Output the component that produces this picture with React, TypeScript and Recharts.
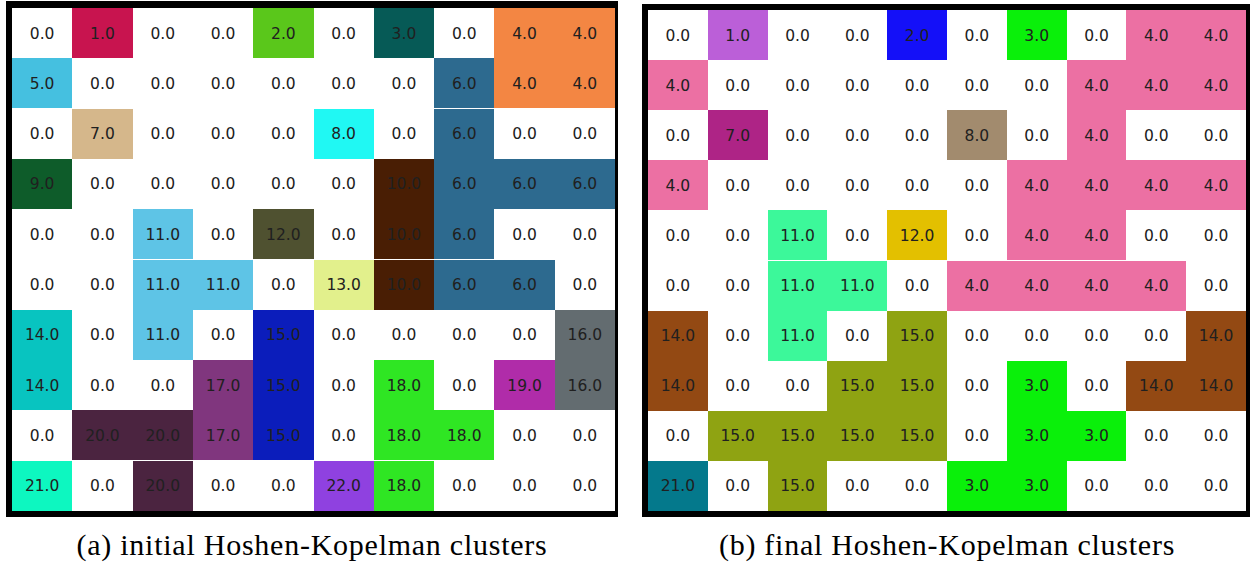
import React from 'react';
import { BarChart, Bar, XAxis, YAxis, Cell, LabelList } from 'recharts';

// cluster labels per lattice site, row by row from the top
const gridInitial = [
  [0, 1, 0, 0, 2, 0, 3, 0, 4, 4],
  [5, 0, 0, 0, 0, 0, 0, 6, 4, 4],
  [0, 7, 0, 0, 0, 8, 0, 6, 0, 0],
  [9, 0, 0, 0, 0, 0, 10, 6, 6, 6],
  [0, 0, 11, 0, 12, 0, 10, 6, 0, 0],
  [0, 0, 11, 11, 0, 13, 10, 6, 6, 0],
  [14, 0, 11, 0, 15, 0, 0, 0, 0, 16],
  [14, 0, 0, 17, 15, 0, 18, 0, 19, 16],
  [0, 20, 20, 17, 15, 0, 18, 18, 0, 0],
  [21, 0, 20, 0, 0, 22, 18, 0, 0, 0],
];

const gridFinal = [
  [0, 1, 0, 0, 2, 0, 3, 0, 4, 4],
  [4, 0, 0, 0, 0, 0, 0, 4, 4, 4],
  [0, 7, 0, 0, 0, 8, 0, 4, 0, 0],
  [4, 0, 0, 0, 0, 0, 4, 4, 4, 4],
  [0, 0, 11, 0, 12, 0, 4, 4, 0, 0],
  [0, 0, 11, 11, 0, 4, 4, 4, 4, 0],
  [14, 0, 11, 0, 15, 0, 0, 0, 0, 14],
  [14, 0, 0, 15, 15, 0, 3, 0, 14, 14],
  [0, 15, 15, 15, 15, 0, 3, 3, 0, 0],
  [21, 0, 15, 0, 0, 3, 3, 0, 0, 0],
];

const colorsInitial: Record<number, string> = {
  0: '#ffffff',
  1: '#c8144f',
  2: '#5ac71b',
  3: '#065a56',
  4: '#f38643',
  5: '#45c0e0',
  6: '#2d6a8f',
  7: '#d5b78b',
  8: '#20f8f3',
  9: '#0e5c2a',
  10: '#491e04',
  11: '#5ec4e6',
  12: '#4f5130',
  13: '#e2f08c',
  14: '#08c4c0',
  15: '#0b1dbb',
  16: '#636c70',
  17: '#80367e',
  18: '#2fe623',
  19: '#b02ca9',
  20: '#4b2440',
  21: '#0df7c0',
  22: '#8f41e0',
};

const colorsFinal: Record<number, string> = {
  0: '#ffffff',
  1: '#bb5fd8',
  2: '#1410f8',
  3: '#0af00a',
  4: '#ec70a3',
  7: '#ae2486',
  8: '#a28b6e',
  11: '#3cf89a',
  12: '#e3c000',
  14: '#934913',
  15: '#8fa312',
  21: '#04798c',
};

const captions = ['(a) initial Hoshen-Kopelman clusters', '(b) final Hoshen-Kopelman clusters'];

const cols = [0, 1, 2, 3, 4, 5, 6, 7, 8, 9];

type GridProps = {
  grid: number[][];
  colors: Record<number, string>;
  width: number;
  height: number;
};

const ClusterGrid = ({ grid, colors, width, height }: GridProps) => {
  const rows = grid.map((vals, r) => {
    const o: Record<string, number> = { row: r };
    vals.forEach((v, c) => {
      o[`w${c}`] = 1;
      o[`v${c}`] = v;
    });
    return o;
  });

  return (
    <BarChart
      layout="vertical"
      width={width}
      height={height}
      data={rows}
      margin={{ top: 0, right: 0, bottom: 0, left: 0 }}
      barCategoryGap={0}
      barGap={0}
    >
      <XAxis type="number" domain={[0, 10]} hide />
      <YAxis type="category" dataKey="row" hide />
      {cols.map((c) => (
        <Bar key={c} dataKey={`w${c}`} stackId="g" isAnimationActive={false}>
          {grid.map((vals, r) => (
            <Cell key={r} fill={colors[vals[c]] ?? '#ffffff'} shapeRendering="crispEdges" />
          ))}
          <LabelList
            dataKey={`v${c}`}
            position="center"
            formatter={(v: any) => Number(v).toFixed(1)}
            fill="#202020"
            fontSize={15.5}
            fontFamily="DejaVu Sans"
          />
        </Bar>
      ))}
    </BarChart>
  );
};

const captionStyle: React.CSSProperties = {
  position: 'absolute',
  top: 528,
  width: 620,
  textAlign: 'center',
  fontFamily: '"Liberation Serif", serif',
  fontSize: 30,
  letterSpacing: 0.75,
  color: '#000',
};

export default function App() {
  return (
    <div style={{ position: 'absolute', left: 0, top: 0, width: 1252, height: 566, background: '#fff' }}>
      {/* panel (a) */}
      <div
        style={{
          position: 'absolute',
          left: 6,
          top: 1,
          borderStyle: 'solid',
          borderColor: '#000',
          borderWidth: '7px 3px 6px 6px',
          lineHeight: 0,
        }}
      >
        <ClusterGrid grid={gridInitial} colors={colorsInitial} width={603} height={503} />
      </div>
      {/* panel (b) */}
      <div
        style={{
          position: 'absolute',
          left: 642,
          top: 4,
          borderStyle: 'solid',
          borderColor: '#000',
          borderWidth: '6px 4px 6px 6px',
          lineHeight: 0,
        }}
      >
        <ClusterGrid grid={gridFinal} colors={colorsFinal} width={598} height={501} />
      </div>
      <div style={{ ...captionStyle, left: 2 }}>{captions[0]}</div>
      <div style={{ ...captionStyle, left: 637 }}>{captions[1]}</div>
    </div>
  );
}
